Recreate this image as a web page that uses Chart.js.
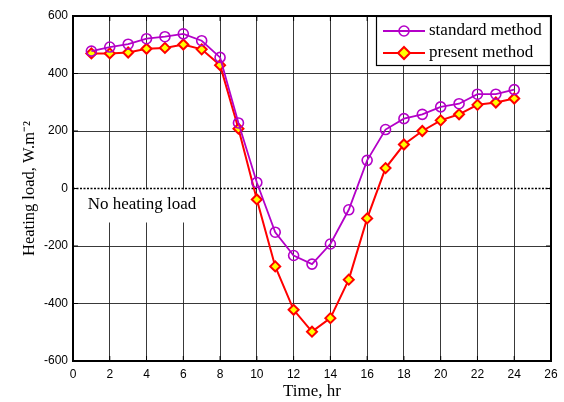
<!DOCTYPE html>
<html>
<head>
<meta charset="utf-8">
<script src="https://cdn.jsdelivr.net/npm/chart.js@4/dist/chart.umd.min.js"></script>
<style>
  html, body { margin: 0; padding: 0; background: #fff; }
  #wrap { width: 564px; height: 402px; }
</style>
</head>
<body>
<div id="wrap"><canvas id="heatChart"></canvas></div>
<script>
// hours of the day
const hours = [1, 2, 3, 4, 5, 6, 7, 8, 9, 10, 11, 12, 13, 14, 15, 16, 17, 18, 19, 20, 21, 22, 23, 24];
// heating load, standard method
const standardLoad = [478, 492, 502, 521, 528, 538, 514, 456, 228, 21, -152, -233, -263, -193, -74, 98, 205, 243, 258, 284, 295, 328, 328, 344];
// heating load, present method
const presentLoad = [470, 470, 473, 486, 489, 501, 484, 429, 208, -38, -271, -422, -498, -451, -317, -104, 71, 153, 200, 237, 258, 291, 299, 313];
const xTicks = [0, 2, 4, 6, 8, 10, 12, 14, 16, 18, 20, 22, 24, 26];
const yTicks = [-600, -400, -200, 0, 200, 400, 600];

const serif = '"Liberation Serif", "Times New Roman", serif';
const sans = '"Liberation Sans", Arial, sans-serif';

// fond blanc, texte "No heating load", ligne zéro en pointillés
const annotations = {
    id: 'annotations',
    beforeDatasetsDraw(chart) {
        const ctx = chart.ctx;
        const x = chart.scales.x, y = chart.scales.y;
        const y0 = y.getPixelForValue(0);
        ctx.save();
        ctx.fillStyle = '#fff';
        ctx.fillRect(x.left + 1, y0 + 1, x.getPixelForValue(7.5) - x.left, 33);
        ctx.strokeStyle = '#000';
        ctx.lineWidth = 1.6;
        ctx.setLineDash([2, 1.5]);
        ctx.beginPath();
        ctx.moveTo(x.left, y0);
        ctx.lineTo(x.right, y0);
        ctx.stroke();
        ctx.setLineDash([]);
        ctx.fillStyle = '#000';
        ctx.font = '17px ' + serif;
        ctx.textBaseline = 'middle';
        ctx.fillText('No heating load', x.getPixelForValue(0.8), y0 + 16);
        ctx.restore();
    },
    afterDraw(chart) {
        const ctx = chart.ctx;
        const a = chart.chartArea;
        ctx.save();
        // cadre des axes
        ctx.strokeStyle = '#000';
        ctx.lineWidth = 2;
        ctx.strokeRect(a.left, a.top, a.right - a.left, a.bottom - a.top);
        // petites graduations intérieures
        ctx.lineWidth = 1;
        ctx.beginPath();
        xTicks.forEach(v => {
            const px = chart.scales.x.getPixelForValue(v);
            ctx.moveTo(px, a.bottom); ctx.lineTo(px, a.bottom - 5);
            ctx.moveTo(px, a.top); ctx.lineTo(px, a.top + 5);
        });
        yTicks.forEach(v => {
            const py = chart.scales.y.getPixelForValue(v);
            ctx.moveTo(a.left, py); ctx.lineTo(a.left + 5, py);
            ctx.moveTo(a.right, py); ctx.lineTo(a.right - 5, py);
        });
        ctx.stroke();

        // légende
        const lx = 376, ly = a.top, lw = a.right - lx, lh = 50;
        ctx.fillStyle = '#fff';
        ctx.fillRect(lx, ly, lw, lh);
        ctx.strokeStyle = '#000';
        ctx.lineWidth = 1.2;
        ctx.strokeRect(lx + 0.5, ly + 0.5, lw - 1, lh - 1);
        chart.data.datasets.forEach((ds, i) => {
            const cy = ly + 15 + i * 22;
            ctx.strokeStyle = ds.borderColor;
            ctx.lineWidth = ds.borderWidth;
            ctx.beginPath();
            ctx.moveTo(lx + 7, cy);
            ctx.lineTo(lx + 49, cy);
            ctx.stroke();
            ctx.lineWidth = ds.pointBorderWidth;
            ctx.fillStyle = ds.pointBackgroundColor;
            ctx.beginPath();
            if (ds.pointStyle === 'circle') {
                ctx.arc(lx + 28, cy, ds.pointRadius, 0, Math.PI * 2);
            } else {
                const r = ds.pointRadius + 1;
                ctx.moveTo(lx + 28, cy - r);
                ctx.lineTo(lx + 28 + r, cy);
                ctx.lineTo(lx + 28, cy + r);
                ctx.lineTo(lx + 28 - r, cy);
                ctx.closePath();
            }
            ctx.fill();
            ctx.stroke();
            ctx.fillStyle = '#000';
            ctx.font = '17px ' + serif;
            ctx.textBaseline = 'middle';
            ctx.fillText(ds.label, lx + 53, cy);
        });
        ctx.restore();
    }
};

new Chart(document.getElementById('heatChart'), {
    type: 'line',
    data: {
        datasets: [{
            label: 'standard method',
            data: hours.map((h, i) => ({ x: h, y: standardLoad[i] })),
            borderColor: '#b400c8',
            borderWidth: 1.8,
            pointStyle: 'circle',
            pointRadius: 5,
            pointBorderWidth: 1.6,
            pointBackgroundColor: 'rgba(255,255,255,0)',
            pointBorderColor: '#b400c8',
            fill: false,
            tension: 0
        }, {
            label: 'present method',
            data: hours.map((h, i) => ({ x: h, y: presentLoad[i] })),
            borderColor: '#ff0000',
            borderWidth: 2,
            pointStyle: 'rectRot',
            pointRadius: 5,
            pointBorderWidth: 2,
            pointBackgroundColor: '#ffff00',
            pointBorderColor: '#ff0000',
            fill: false,
            tension: 0
        }]
    },
    options: {
        responsive: true,
        maintainAspectRatio: false,
        animation: false,
        layout: { padding: { left: 0, right: 13, top: 16, bottom: 0 } },
        plugins: {
            legend: { display: false },
            tooltip: { enabled: false }
        },
        scales: {
            x: {
                type: 'linear',
                min: 0,
                max: 26,
                afterBuildTicks: axis => { axis.ticks = xTicks.map(v => ({ value: v })); },
                afterFit: axis => { axis.height = 41; },
                grid: { color: '#222', lineWidth: 0.9, drawTicks: false },
                border: { display: false },
                ticks: { color: '#000', font: { family: sans, size: 12 }, padding: 6, maxRotation: 0 },
                title: {
                    display: true,
                    text: 'Time, hr',
                    color: '#000',
                    font: { family: serif, size: 17 },
                    padding: { top: 0, bottom: 0 }
                }
            },
            y: {
                min: -600,
                max: 600,
                afterBuildTicks: axis => { axis.ticks = yTicks.map(v => ({ value: v })); },
                afterFit: axis => { axis.width = 73; },
                grid: {
                    color: ctx => ctx.tick && ctx.tick.value === 0 ? 'rgba(0,0,0,0)' : '#222',
                    lineWidth: 0.9,
                    drawTicks: false
                },
                border: { display: false },
                ticks: { color: '#000', font: { family: sans, size: 12 }, padding: 5 },
                title: {
                    display: true,
                    text: 'Heating load, W.m⁻²',
                    color: '#000',
                    font: { family: serif, size: 16.5 },
                    padding: { top: 20, bottom: 0 }
                }
            }
        }
    },
    plugins: [annotations]
});
</script>
</body>
</html>
